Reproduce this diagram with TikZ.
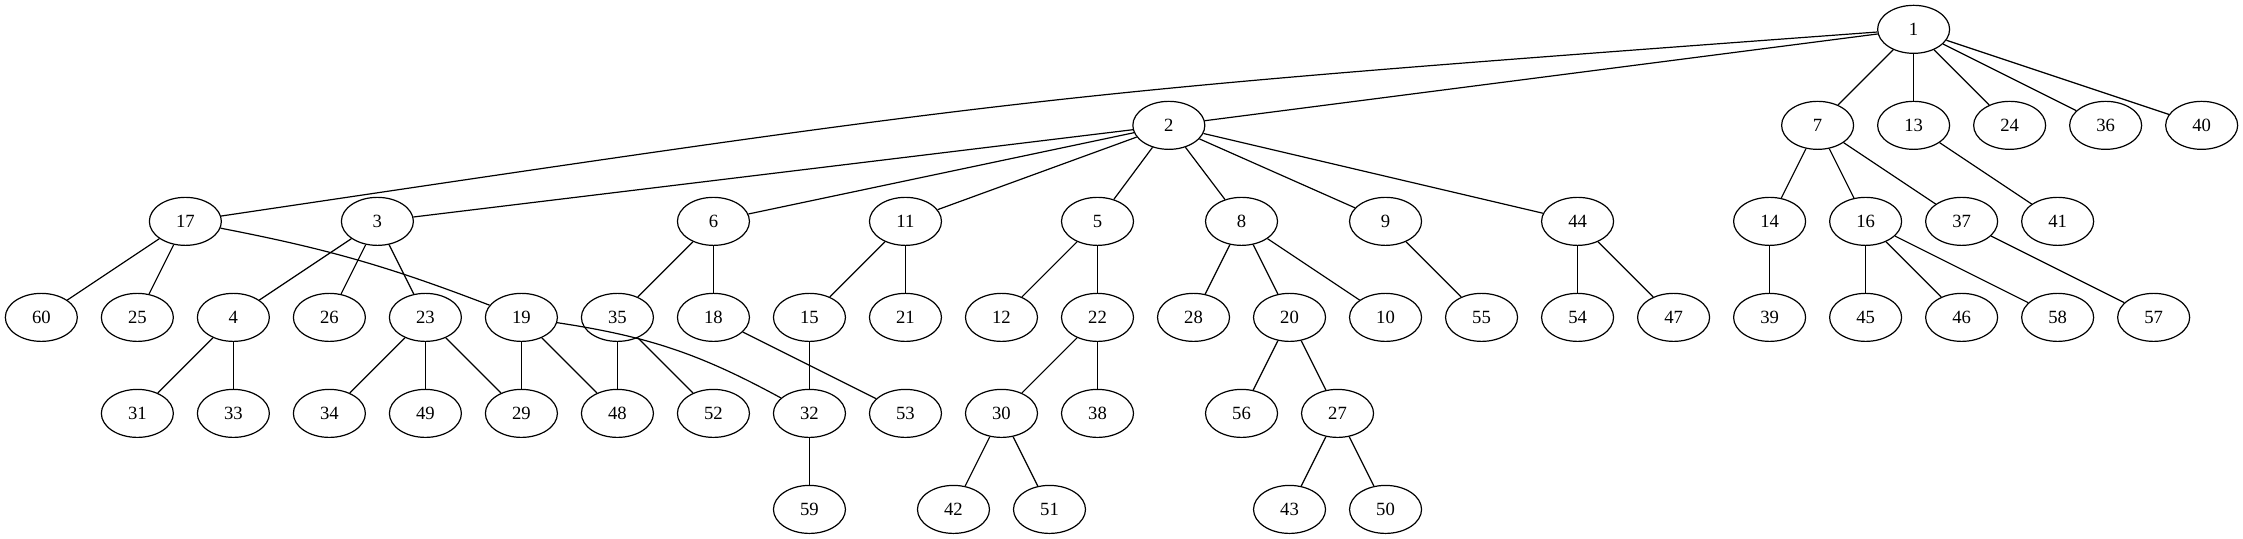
\documentclass[tikz,border=0pt]{standalone}
\usepackage{fontspec}
\setmainfont{Liberation Serif}
\usetikzlibrary{shapes.geometric}

\begin{document}
\begin{tikzpicture}[x=1pt,y=1pt,line width=0.9pt,
  vertex/.style={draw,ellipse,minimum width=54pt,minimum height=36pt,inner sep=0pt,
    font=\fontsize{14}{16}\selectfont}]
\useasboundingbox (0,0) rectangle (1682,-404);

\node[vertex] (n1) at (1435,-22) {1};

\node[vertex] (n2) at (876.5,-94) {2};
\node[vertex] (n7) at (1363,-94) {7};
\node[vertex] (n13) at (1435,-94) {13};
\node[vertex] (n24) at (1507,-94) {24};
\node[vertex] (n36) at (1579,-94) {36};
\node[vertex] (n40) at (1651,-94) {40};

\node[vertex] (n17) at (139,-166) {17};
\node[vertex] (n3) at (283,-166) {3};
\node[vertex] (n6) at (535,-166) {6};
\node[vertex] (n11) at (679,-166) {11};
\node[vertex] (n5) at (823,-166) {5};
\node[vertex] (n8) at (931,-166) {8};
\node[vertex] (n9) at (1039,-166) {9};
\node[vertex] (n44) at (1183,-166) {44};
\node[vertex] (n14) at (1327,-166) {14};
\node[vertex] (n16) at (1399,-166) {16};
\node[vertex] (n37) at (1471,-166) {37};
\node[vertex] (n41) at (1543,-166) {41};

\node[vertex] (n60) at (31,-238) {60};
\node[vertex] (n25) at (103,-238) {25};
\node[vertex] (n4) at (175,-238) {4};
\node[vertex] (n26) at (247,-238) {26};
\node[vertex] (n23) at (319,-238) {23};
\node[vertex] (n19) at (391,-238) {19};
\node[vertex] (n35) at (463,-238) {35};
\node[vertex] (n18) at (535,-238) {18};
\node[vertex] (n15) at (607,-238) {15};
\node[vertex] (n21) at (679,-238) {21};
\node[vertex] (n12) at (751,-238) {12};
\node[vertex] (n22) at (823,-238) {22};
\node[vertex] (n28) at (895,-238) {28};
\node[vertex] (n20) at (967,-238) {20};
\node[vertex] (n10) at (1039,-238) {10};
\node[vertex] (n55) at (1111,-238) {55};
\node[vertex] (n54) at (1183,-238) {54};
\node[vertex] (n47) at (1255,-238) {47};
\node[vertex] (n39) at (1327,-238) {39};
\node[vertex] (n45) at (1399,-238) {45};
\node[vertex] (n46) at (1471,-238) {46};
\node[vertex] (n58) at (1543,-238) {58};
\node[vertex] (n57) at (1615,-238) {57};

\node[vertex] (n31) at (103,-310) {31};
\node[vertex] (n33) at (175,-310) {33};
\node[vertex] (n34) at (247,-310) {34};
\node[vertex] (n49) at (319,-310) {49};
\node[vertex] (n29) at (391,-310) {29};
\node[vertex] (n48) at (463,-310) {48};
\node[vertex] (n52) at (535,-310) {52};
\node[vertex] (n32) at (607,-310) {32};
\node[vertex] (n53) at (679,-310) {53};
\node[vertex] (n30) at (751,-310) {30};
\node[vertex] (n38) at (823,-310) {38};
\node[vertex] (n56) at (931,-310) {56};
\node[vertex] (n27) at (1003,-310) {27};

\node[vertex] (n59) at (607,-382) {59};
\node[vertex] (n42) at (715,-382) {42};
\node[vertex] (n51) at (787,-382) {51};
\node[vertex] (n43) at (967,-382) {43};
\node[vertex] (n50) at (1039,-382) {50};

\coordinate (c117) at (784,-70);

\draw (n1) -- (n2);
\draw (n1) .. controls (c117) .. (n17);
\draw (n1) -- (n7);
\draw (n1) -- (n13);
\draw (n1) -- (n24);
\draw (n1) -- (n36);
\draw (n1) -- (n40);

\draw (n2) -- (n3);
\draw (n2) -- (n6);
\draw (n2) -- (n11);
\draw (n2) -- (n5);
\draw (n2) -- (n8);
\draw (n2) -- (n9);
\draw (n2) -- (n44);
\draw (n7) -- (n14);
\draw (n7) -- (n16);
\draw (n7) -- (n37);
\draw (n13) -- (n41);

\draw (n17) -- (n60);
\draw (n17) -- (n25);
\draw (n17) to[bend left=5] (n19);
\draw (n3) -- (n4);
\draw (n3) -- (n26);
\draw (n3) -- (n23);
\draw (n6) -- (n35);
\draw (n6) -- (n18);
\draw (n11) -- (n15);
\draw (n11) -- (n21);
\draw (n5) -- (n12);
\draw (n5) -- (n22);
\draw (n8) -- (n28);
\draw (n8) -- (n20);
\draw (n8) -- (n10);
\draw (n9) -- (n55);
\draw (n44) -- (n54);
\draw (n44) -- (n47);
\draw (n14) -- (n39);
\draw (n16) -- (n45);
\draw (n16) -- (n46);
\draw (n16) -- (n58);
\draw (n37) -- (n57);

\draw (n4) -- (n31);
\draw (n4) -- (n33);
\draw (n23) -- (n34);
\draw (n23) -- (n49);
\draw (n23) -- (n29);
\draw (n19) -- (n29);
\draw (n19) -- (n48);
\draw (n19) to[bend left=10] (n32);
\draw (n35) -- (n48);
\draw (n35) -- (n52);
\draw (n18) -- (n53);
\draw (n15) -- (n32);
\draw (n22) -- (n30);
\draw (n22) -- (n38);
\draw (n20) -- (n56);
\draw (n20) -- (n27);

\draw (n32) -- (n59);
\draw (n30) -- (n42);
\draw (n30) -- (n51);
\draw (n27) -- (n43);
\draw (n27) -- (n50);
\end{tikzpicture}
\end{document}
